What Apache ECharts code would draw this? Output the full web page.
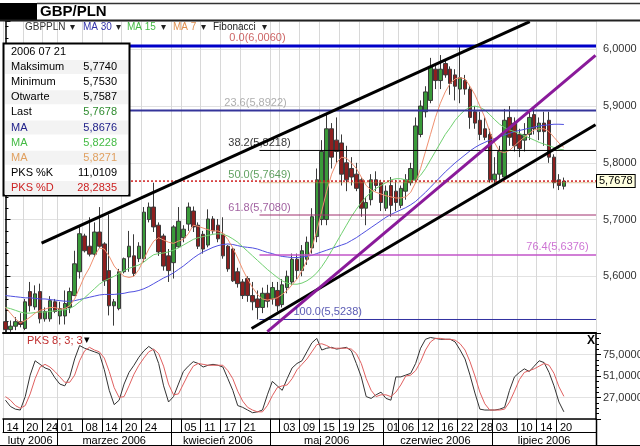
<!DOCTYPE html>
<html><head><meta charset="utf-8">
<script src="https://cdn.jsdelivr.net/npm/echarts@6/dist/echarts.min.js"></script>
<style>html,body{margin:0;padding:0;background:#fff}#c{width:640px;height:446px}</style>
</head><body><div id="c"></div>
<script>
// ---------- DATA ----------
const firstDay = [2006, 1, 14], lastDay = [2006, 6, 31];
const opens  = [5.520,5.506,5.512,5.520,5.508,5.573,5.546,5.573,5.525,5.525,5.555,5.530,5.530,5.545,5.566,5.608,5.671,5.653,5.639,5.678,
                5.657,5.610,5.548,5.543,5.608,5.634,5.636,5.631,5.631,5.700,5.722,5.690,5.671,5.636,5.624,5.652,5.668,5.692,5.715,5.690,
                5.674,5.655,5.701,5.690,5.674,5.653,5.648,5.608,5.590,5.596,5.566,5.560,5.545,5.570,5.560,5.575,5.550,5.580,5.590,5.630,
                5.610,5.630,5.650,5.670,5.700,5.700,5.860,5.840,5.835,5.800,5.790,5.780,5.770,5.720,5.735,5.770,5.765,5.720,5.760,5.750,
                5.725,5.750,5.765,5.770,5.850,5.890,5.910,5.965,5.945,5.975,5.965,5.955,5.930,5.945,5.930,5.890,5.875,5.860,5.850,5.770,
                5.780,5.775,5.880,5.870,5.850,5.840,5.850,5.885,5.855,5.870,5.875,5.810,5.770,5.7587];
const highs  = [5.534,5.522,5.528,5.535,5.560,5.590,5.584,5.587,5.545,5.565,5.560,5.555,5.575,5.580,5.645,5.687,5.675,5.704,5.695,5.722,
                5.660,5.709,5.560,5.613,5.633,5.680,5.674,5.660,5.722,5.730,5.765,5.695,5.675,5.648,5.690,5.722,5.690,5.730,5.723,5.695,
                5.680,5.718,5.706,5.701,5.704,5.655,5.650,5.615,5.595,5.600,5.590,5.575,5.580,5.585,5.590,5.590,5.595,5.610,5.640,5.640,
                5.655,5.670,5.720,5.790,5.840,5.885,5.870,5.880,5.850,5.830,5.810,5.800,5.775,5.740,5.780,5.785,5.770,5.760,5.775,5.770,
                5.760,5.780,5.800,5.880,5.910,5.935,5.985,5.975,5.990,5.980,5.970,5.965,6.006,5.955,5.935,5.900,5.890,5.880,5.860,5.810,
                5.830,5.895,5.900,5.880,5.860,5.870,5.890,5.895,5.880,5.890,5.890,5.815,5.780,5.7740];
const lows   = [5.503,5.502,5.505,5.510,5.505,5.538,5.541,5.517,5.520,5.520,5.535,5.515,5.515,5.535,5.565,5.596,5.642,5.635,5.634,5.650,
                5.583,5.531,5.513,5.540,5.605,5.608,5.600,5.625,5.625,5.695,5.678,5.636,5.610,5.590,5.596,5.650,5.660,5.680,5.678,5.648,
                5.640,5.651,5.675,5.660,5.631,5.608,5.590,5.580,5.560,5.555,5.540,5.524,5.535,5.545,5.550,5.538,5.545,5.570,5.585,5.595,
                5.600,5.620,5.640,5.660,5.690,5.690,5.790,5.800,5.760,5.750,5.760,5.750,5.705,5.690,5.725,5.750,5.715,5.715,5.705,5.715,
                5.720,5.735,5.760,5.765,5.845,5.880,5.905,5.930,5.930,5.950,5.920,5.910,5.905,5.920,5.860,5.860,5.840,5.840,5.765,5.760,
                5.770,5.770,5.830,5.820,5.810,5.820,5.840,5.850,5.840,5.830,5.800,5.755,5.752,5.7530];
const closes = [5.506,5.512,5.520,5.515,5.555,5.548,5.569,5.525,5.538,5.557,5.538,5.543,5.552,5.573,5.622,5.675,5.645,5.639,5.678,5.653,
                5.592,5.548,5.555,5.608,5.631,5.653,5.605,5.653,5.713,5.722,5.687,5.643,5.618,5.610,5.687,5.697,5.683,5.722,5.687,5.653,
                5.648,5.701,5.680,5.666,5.636,5.613,5.592,5.587,5.566,5.566,5.555,5.545,5.570,5.556,5.580,5.548,5.585,5.600,5.630,5.610,
                5.645,5.660,5.705,5.770,5.820,5.860,5.810,5.820,5.780,5.770,5.775,5.755,5.720,5.730,5.770,5.760,5.730,5.750,5.725,5.730,
                5.755,5.770,5.790,5.865,5.900,5.925,5.970,5.945,5.965,5.955,5.940,5.935,5.950,5.930,5.880,5.870,5.850,5.845,5.770,5.780,
                5.820,5.875,5.845,5.830,5.825,5.850,5.880,5.860,5.870,5.855,5.810,5.765,5.760,5.7678];
const ma30 = [5.566,5.565,5.564,5.563,5.562,5.562,5.561,5.560,5.560,5.559,5.558,5.557,5.556,5.556,5.557,5.559,5.561,5.563,5.565,5.567,
              5.568,5.568,5.568,5.569,5.570,5.572,5.573,5.575,5.578,5.582,5.587,5.592,5.597,5.601,5.606,5.612,5.618,5.625,5.632,5.638,
              5.643,5.647,5.651,5.654,5.656,5.657,5.656,5.654,5.652,5.651,5.650,5.648,5.645,5.642,5.640,5.637,5.635,5.634,5.633,5.633,
              5.634,5.635,5.637,5.640,5.643,5.646,5.649,5.652,5.655,5.658,5.663,5.668,5.674,5.680,5.686,5.692,5.698,5.704,5.709,5.713,
              5.717,5.721,5.726,5.732,5.740,5.748,5.757,5.766,5.775,5.784,5.792,5.800,5.807,5.814,5.821,5.827,5.832,5.836,5.840,5.843,
              5.846,5.849,5.852,5.855,5.857,5.859,5.861,5.863,5.865,5.866,5.867,5.868,5.868,5.8676];
const ma15 = [5.545,5.543,5.540,5.537,5.535,5.535,5.536,5.537,5.537,5.538,5.539,5.540,5.541,5.543,5.548,5.555,5.562,5.570,5.578,5.586,
              5.592,5.596,5.600,5.605,5.610,5.614,5.617,5.620,5.625,5.632,5.638,5.640,5.641,5.643,5.646,5.650,5.655,5.660,5.665,5.668,
              5.670,5.672,5.674,5.675,5.674,5.671,5.666,5.660,5.652,5.644,5.636,5.628,5.620,5.612,5.605,5.598,5.592,5.588,5.586,5.586,
              5.588,5.592,5.598,5.606,5.617,5.630,5.645,5.660,5.675,5.690,5.705,5.718,5.730,5.740,5.748,5.755,5.760,5.765,5.770,5.772,
              5.772,5.770,5.768,5.770,5.778,5.790,5.805,5.820,5.835,5.850,5.862,5.875,5.885,5.893,5.898,5.900,5.898,5.893,5.885,5.876,
              5.868,5.862,5.858,5.855,5.852,5.848,5.844,5.840,5.836,5.833,5.830,5.827,5.824,5.8228];
const ma7  = [5.545,5.535,5.525,5.518,5.522,5.528,5.535,5.540,5.542,5.545,5.545,5.542,5.543,5.548,5.560,5.580,5.600,5.615,5.635,5.650,
              5.648,5.635,5.618,5.608,5.600,5.598,5.600,5.612,5.630,5.648,5.662,5.668,5.664,5.660,5.658,5.662,5.665,5.675,5.690,5.688,
              5.685,5.682,5.680,5.680,5.676,5.665,5.650,5.632,5.612,5.595,5.580,5.568,5.560,5.558,5.560,5.562,5.568,5.575,5.585,5.595,
              5.610,5.628,5.650,5.680,5.715,5.750,5.780,5.800,5.810,5.808,5.800,5.790,5.775,5.760,5.752,5.748,5.745,5.742,5.740,5.738,
              5.738,5.740,5.748,5.765,5.790,5.820,5.850,5.880,5.905,5.925,5.940,5.948,5.950,5.948,5.935,5.920,5.900,5.880,5.855,5.835,
              5.820,5.818,5.822,5.830,5.838,5.845,5.852,5.858,5.860,5.860,5.855,5.845,5.835,5.8271];
const stochK = [24,17,14,13,28,52,68,64,60,58,49,42,40,50,70,85,82,80,78,76,58,35,19,24,42,55,63,72,79,84,
                80,65,40,22,28,42,56,62,67,65,61,63,64,63,61,48,35,18,16,13,10,11,13,30,45,40,35,48,60,65,
                68,78,88,93,80,82,83,81,82,83,79,65,50,28,26,30,33,26,24,50,50,52,54,65,82,92,94,93,92,92,
                92,89,80,70,52,32,14,13,13,13,14,16,35,50,55,59,56,62,68,66,55,40,22,11.0109];
const stochD = [28,24,18,15,18,31,48,61,64,61,56,50,44,44,52,68,79,83,80,78,71,56,38,27,28,40,53,63,71,78,
                81,76,62,42,30,31,42,53,62,65,64,63,63,63,63,57,48,34,23,16,13,11,11,18,29,38,40,41,48,58,
                64,70,78,86,87,85,82,82,82,82,81,76,65,48,35,28,30,30,28,33,41,51,52,57,67,80,89,93,93,92,
                92,91,87,80,67,51,33,20,13,13,13,14,22,34,47,55,57,59,62,65,63,54,39,28.2835];
const dayTickDates = ['2006-02-14','2006-02-20','2006-02-24','2006-03-01','2006-03-08','2006-03-14','2006-03-20','2006-03-24',
  '2006-04-05','2006-04-11','2006-04-17','2006-04-21','2006-05-03','2006-05-09','2006-05-15','2006-05-19','2006-05-25',
  '2006-06-01','2006-06-06','2006-06-12','2006-06-16','2006-06-22','2006-06-28','2006-07-03','2006-07-10','2006-07-14','2006-07-20'];
const monthNames = {'02':'luty 2006','03':'marzec 2006','04':'kwiecień 2006','05':'maj 2006','06':'czerwiec 2006','07':'lipiec 2006'};
const fibLevels = ['0.0','23.6','38.2','50.0','61.8','76.4','100.0'];
const fibValues = [6.0060,5.8922,5.8218,5.7649,5.7080,5.6376,5.5238];
const fibStart  = [-0.5,-0.5,51.4,51.4,51.4,51.4,51.4];
const fibLabelAt = [51.0,50.6,51.4,51.4,51.4,111.7,65.2];
const lastPrice = 5.7678;
const trendUpper  = [[7.3,5.6585],[106.1,6.049]];
const trendLower  = [[49.8,5.508],[119.4,5.867]];
const trendPurple = [[53.0,5.5026],[119.4,5.9895]];
const infoLabels = ['2006 07 21','Maksimum','Minimum','Otwarte','Last','MA','MA','MA','PKS %K','PKS %D'];
const infoValues = ['','5,7740','5,7530','5,7587','5,7678','5,8676','5,8228','5,8271','11,0109','28,2835'];
const legendNames = ['GBPPLN','MA 30','MA 15','MA 7','Fibonacci'];
const titleText = 'GBP/PLN';
const stochName = 'PKS 8; 3; 3';
const priceTicks = [5.6,5.7,5.8,5.9,6.0];
const stochTicks = [27,51,75];

// ---------- BUILD ----------
const dates = [];
for (let d = new Date(Date.UTC(...firstDay)); d <= new Date(Date.UTC(...lastDay)); d.setUTCDate(d.getUTCDate()+1)) {
  const w = d.getUTCDay(); if (w === 0 || w === 6) continue;
  dates.push(d.toISOString().slice(0,10));
}
const N = dates.length;
const XMAX = N - 0.5;
const mon = s => s.slice(5,7);
const monthStart = new Set();
dates.forEach((d,i)=>{ if (i>0 && mon(d)!==mon(dates[i-1])) monthStart.add(i); });
const dayTickIdx = new Set(dayTickDates.map(d=>dates.indexOf(d)));
const sepIdx = new Set([...dayTickIdx, ...monthStart]);
const monthMid = new Set();
{ let s=0; for (let i=1;i<=N;i++){ if (i===N || monthStart.has(i)) { monthMid.add(Math.floor((s+i-1)/2)); s=i; } } }
const fmt4 = v => v.toFixed(4).replace('.', ',');
const FONT = 'Liberation Sans, Arial, sans-serif';
const candles = opens.map((o,i)=>[o, closes[i], lows[i], highs[i]]);
const near = (arr,v)=>arr.some(t=>Math.abs(t-v)<1e-6);

const fibColors = ['#0000c8','#34349a','#000000','#c08a40','#a0306e','#c255c8','#3030a0'];
const fibWidths = [3,2,1,1,1,1.5,1];
const fibTypes  = ['solid','solid','solid','dotted','solid','solid','solid'];
const fibLabelColors = ['#c04040','#9a9a9a','#000000','#3a8a3a','#8a3a8a','#c050c8','#3030a0'];

const series = [
  {type:'candlestick', xAxisIndex:0, yAxisIndex:0, data:candles, barWidth:4,
   itemStyle:{color:'#3a9a3a', color0:'#8e1f1f', borderColor:'#3a3a3a', borderColor0:'#3a3a3a', borderWidth:1}},
  {type:'line', name:'MA 30', xAxisIndex:0, yAxisIndex:0, data:ma30, symbol:'none', lineStyle:{color:'#5050e0', width:1}},
  {type:'line', name:'MA 15', xAxisIndex:0, yAxisIndex:0, data:ma15, symbol:'none', lineStyle:{color:'#70d070', width:1}},
  {type:'line', name:'MA 7', xAxisIndex:0, yAxisIndex:0, data:ma7, symbol:'none', lineStyle:{color:'#f09070', width:1}},
];
fibValues.forEach((v,k)=>{
  series.push({type:'line', xAxisIndex:1, yAxisIndex:0, z:4, symbol:'none', silent:true,
    data:[[fibStart[k], v],[XMAX, v]], lineStyle:{color:fibColors[k], width:fibWidths[k], type:fibTypes[k]}});
});
series.push({type:'line', xAxisIndex:1, yAxisIndex:0, z:4, symbol:'none', data:[[-0.5,lastPrice],[XMAX,lastPrice]],
  lineStyle:{color:'#d02020', width:1.5, type:[2,2]},
  endLabel:{show:true, formatter:()=>fmt4(lastPrice), distance:1, fontSize:11, fontFamily:FONT, color:'#000',
    backgroundColor:'#ffffe0', borderColor:'#000', borderWidth:1, padding:[1,2,0,2]}});
[[trendUpper,'#000'],[trendLower,'#000'],[trendPurple,'#8a1a9a']].forEach(([d,c])=>{
  series.push({type:'line', xAxisIndex:1, yAxisIndex:0, z:5, symbol:'none', data:d, lineStyle:{color:c, width:3}});
});
series.push({type:'scatter', xAxisIndex:1, yAxisIndex:0, z:6, symbolSize:2, itemStyle:{color:'rgba(0,0,0,0)'},
  data:fibValues.map((v,k)=>({value:[fibLabelAt[k], v], label:{color:fibLabelColors[k]}})),
  label:{show:true, position:'top', distance:1, fontSize:11, fontFamily:FONT,
    formatter:p=>fibLevels[p.dataIndex]+'('+fmt4(fibValues[p.dataIndex])+')'}});
series.push({type:'line', xAxisIndex:2, yAxisIndex:1, data:stochK, symbol:'none', lineStyle:{color:'#333', width:1}});
series.push({type:'line', xAxisIndex:2, yAxisIndex:1, data:stochD, symbol:'none', lineStyle:{color:'#e06060', width:1}});

const graphic = [
  {type:'rect', shape:{x:0,y:3,width:37,height:17}, style:{fill:'#000'}, z:100},
  {type:'line', shape:{x1:37,y1:3.5,x2:640,y2:3.5}, style:{stroke:'#333', lineWidth:1.5}, z:100},
  {type:'line', shape:{x1:0,y1:20.5,x2:640,y2:20.5}, style:{stroke:'#222', lineWidth:2}, z:100},
  {type:'text', x:40, y:12, style:{text:titleText, font:'bold 15px '+FONT, fill:'#000', verticalAlign:'middle'}, z:100},
  {type:'line', shape:{x1:596.5,y1:419,x2:596.5,y2:446}, style:{stroke:'#000', lineWidth:1.5}, z:100},
  {type:'line', shape:{x1:0,y1:445.5,x2:640,y2:445.5}, style:{stroke:'#000', lineWidth:1}, z:100},
  {type:'text', x:27, y:341, style:{text:stochName, font:'11px '+FONT, fill:'#c03030', verticalAlign:'middle'}, z:100},
  {type:'text', x:84, y:340, style:{text:'▾', font:'11px DejaVu Sans', fill:'#000', verticalAlign:'middle'}, z:100},
  {type:'text', x:587, y:341, style:{text:'X', font:'bold 12px '+FONT, fill:'#000', verticalAlign:'middle'}, z:100},
];
const legX = [25,83,127,173,213], legArrow=[70,116,161,201,262];
const legColors = ['#333','#3333aa','#44bb44','#e09050','#222'];
legendNames.forEach((n,k)=>{
  graphic.push({type:'text', x:legX[k], y:27, style:{text:n, font:'10px '+FONT, fill:legColors[k], verticalAlign:'middle'}, z:100});
  graphic.push({type:'text', x:legArrow[k], y:27, style:{text:'▾', font:'10px DejaVu Sans', fill:'#222', verticalAlign:'middle'}, z:100});
});
// info box
graphic.push({type:'rect', shape:{x:3.5,y:43.5,width:126,height:152}, style:{fill:'#fff', stroke:'#000', lineWidth:2}, z:110});
const infoColors = ['#000','#000','#000','#000','#000','#22228a','#44bb44','#e0a060','#000','#cc2222'];
const valColors  = ['#000','#000','#000','#000','#2e8b2e','#22228a','#44bb44','#e0a060','#000','#cc2222'];
infoLabels.forEach((t,k)=>{
  const y = 52 + 15.1*k;
  if (k%2===1) graphic.push({type:'rect', shape:{x:5,y:y-7,width:123,height:14}, style:{fill:'#f3f3f3'}, z:111});
  graphic.push({type:'text', x:11, y:y, style:{text:t, font:'11px '+FONT, fill:infoColors[k], verticalAlign:'middle'}, z:112});
  graphic.push({type:'text', x:117, y:y, style:{text:infoValues[k], font:'11px '+FONT, fill:valColors[k], align:'right', verticalAlign:'middle'}, z:112});
});

const option = {
  animation:false,
  backgroundColor:'#fff',
  grid:[
    {left:3, right:44, top:21, height:312, outerBoundsMode:'none'},
    {left:3, right:44, top:333, height:86, outerBoundsMode:'none'}
  ],
  xAxis:[
    {type:'category', gridIndex:0, data:dates, boundaryGap:true,
     axisLine:{show:true, onZero:false, lineStyle:{color:'#000', width:2}}, axisTick:{show:false}, axisLabel:{show:false},
     splitLine:{show:true, interval:(i)=>sepIdx.has(i), lineStyle:{color:'#d8d8d8'}}},
    {type:'value', gridIndex:0, min:-0.5, max:XMAX, show:false},
    {type:'category', gridIndex:1, data:dates, boundaryGap:true, position:'bottom',
     axisLine:{show:true, onZero:false, lineStyle:{color:'#000', width:1.5}},
     axisTick:{show:true, interval:(i)=>sepIdx.has(i), length:13, lineStyle:{color:'#000'}},
     axisLabel:{show:true, interval:(i)=>dayTickIdx.has(i), formatter:v=>v.slice(8,10), align:'left', padding:[0,0,0,1],
       margin:3, fontSize:11, fontFamily:FONT, color:'#000', hideOverlap:false},
     splitLine:{show:true, interval:(i)=>sepIdx.has(i), lineStyle:{color:'#d8d8d8'}}},
    {type:'category', gridIndex:1, data:dates, boundaryGap:true, position:'bottom', offset:13,
     axisLine:{show:true, onZero:false, lineStyle:{color:'#000', width:1}},
     axisTick:{show:true, interval:(i)=>monthStart.has(i), length:14, lineStyle:{color:'#000'}},
     axisLabel:{show:true, interval:(i)=>monthMid.has(i), formatter:v=>monthNames[mon(v)], margin:3,
       fontSize:11, fontFamily:FONT, color:'#000', hideOverlap:false},
     splitLine:{show:false}}
  ],
  yAxis:[
    {type:'value', gridIndex:0, position:'right', min:5.5, max:6.05, interval:0.1,
     axisLine:{show:true, lineStyle:{color:'#000', width:1.5}},
     axisTick:{show:true, length:5, lineStyle:{color:'#000'}},
     minorTick:{show:true, splitNumber:5, length:3, lineStyle:{color:'#000'}},
     axisLabel:{fontSize:11, fontFamily:FONT, color:'#333', margin:7, formatter:v=>near(priceTicks,v)?fmt4(v):''},
     splitLine:{show:true, lineStyle:{color:'#e2e2e2'}}},
    {type:'value', gridIndex:1, position:'right', min:3, max:99, interval:24,
     axisLine:{show:true, lineStyle:{color:'#000', width:1.5}},
     axisTick:{show:true, length:5, lineStyle:{color:'#000'}},
     minorTick:{show:true, splitNumber:4, length:3, lineStyle:{color:'#000'}},
     axisLabel:{fontSize:11, fontFamily:FONT, color:'#333', margin:7, formatter:v=>near(stochTicks,v)?fmt4(v):''},
     splitLine:{show:true, lineStyle:{color:'#e2e2e2'}}}
  ],
  series:series,
  graphic:graphic
};
const chart = echarts.init(document.getElementById('c'), null, {renderer:'canvas'});
chart.setOption(option);
</script></body></html>
